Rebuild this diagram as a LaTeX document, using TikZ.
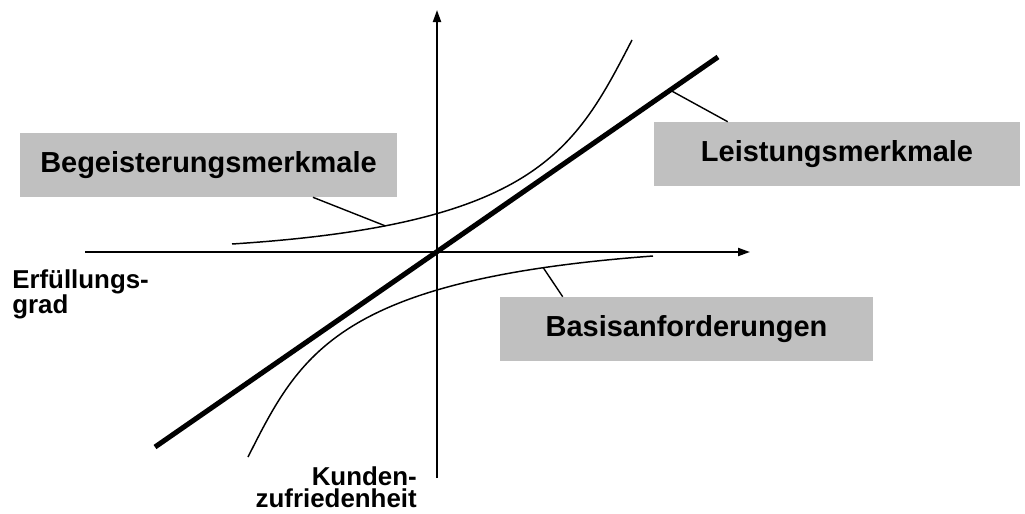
\documentclass[tikz,border=0pt]{standalone}
\usepackage{fontspec}
\setmainfont{Liberation Sans}
\usetikzlibrary{positioning,arrows.meta}
\definecolor{kgrey}{HTML}{C0C0C0}

\begin{document}
\begin{tikzpicture}[x=0.025cm,y=-0.025cm,
    axis/.style={line width=1.4pt,-{Triangle[length=0.3cm,width=0.2cm]}},
    curve/.style={line width=1.05pt},
    pointer/.style={line width=1pt},
    box/.style={fill=kgrey,minimum height=1.6cm,inner sep=0pt,font=\fontsize{20.6}{24}\selectfont\bfseries},
    axlabel/.style={inner sep=0pt,font=\fontsize{18.4}{16.2}\selectfont\bfseries}]
      \useasboundingbox (0,0) rectangle (1025,513);
      \coordinate (xl) at (85,252);
      \coordinate (xr) at (750,252);
      \coordinate (yb) at (437,478);
      \coordinate (yt) at (437,10);
      \draw[axis] (xl) -- (xr);
      \draw[axis] (yb) -- (yt);
      % Leistung: straight line through the origin
      \draw[line width=3.6pt] (155,447) -- coordinate[pos=0.915] (lm) (718,57);
      % Begeisterung and Basis curves
      \draw[curve] (232,244) .. controls (537,224.5) and (575,150) .. coordinate[pos=0.2] (bg) (632,40);
      \draw[curve] (248,457) .. controls (300,354) and (337,279.5) .. coordinate[pos=0.87] (ba) (653,256);
      \node[box,minimum width=9.425cm] (begeist) at (208.5,165) {Begeisterungsmerkmale};
      \node[box,minimum width=9.15cm] (leist) at (837,154) {Leistungsmerkmale};
      \node[box,minimum width=9.325cm] (basis) at (686.5,329) {Basisanforderungen};
      \draw[pointer] ([xshift=2.61cm]begeist.south) -- (bg);
      \draw[pointer] ([xshift=1.85cm]leist.north west) -- (lm);
      \draw[pointer] ([xshift=1.575cm]basis.north west) -- (ba);
      \node[axlabel,align=left,anchor=north west] (erfgrad) at (12,269) {Erfüllungs-\\grad};
      \node[axlabel,align=right,anchor=north east] (kundzuf) at (417,466) {Kunden-\\zufriedenheit};
    \end{tikzpicture}
\end{document}
